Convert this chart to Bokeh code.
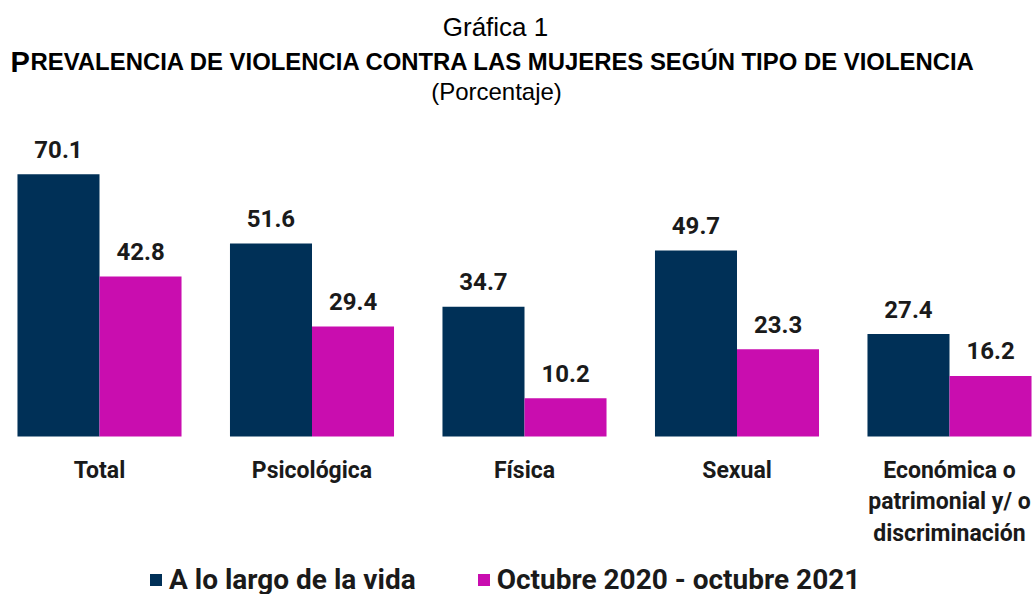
from bokeh.plotting import figure
from bokeh.models import ColumnDataSource, Range1d, Label, Legend, LegendItem
from bokeh.transform import dodge
from bokeh.core.properties import value
from bokeh.embed import file_html
from bokeh.resources import INLINE

# ---- data ----
categories = ["Total", "Psicológica", "Física", "Sexual",
              "Económica o\npatrimonial y/ o\ndiscriminación"]
vida = [70.1, 51.6, 34.7, 49.7, 27.4]
periodo = [42.8, 29.4, 10.2, 23.3, 16.2]
series_names = ["A lo largo de la vida", "Octubre 2020 - octubre 2021"]

NAVY = "#003057"
MAGENTA = "#C90DAF"

src = ColumnDataSource(dict(
    x=list(range(len(categories))),
    cat=categories,
    vida=vida,
    periodo=periodo,
    vida_lbl=[f"{v:.1f}" for v in vida],
    periodo_lbl=[f"{v:.1f}" for v in periodo],
))

W, H = 1036, 594
PX_X = 212.5
PX_Y = 3.74
x0 = -99 / PX_X
y0 = -(H - 436) / PX_Y

p = figure(width=W, height=H, output_backend="svg", toolbar_location=None,
           x_range=Range1d(x0, x0 + W / PX_X), y_range=Range1d(y0, y0 + H / PX_Y),
           min_border=0, outline_line_color=None)
p.axis.visible = False
p.grid.visible = False

bw = 0.386
r1 = p.vbar(x=dodge("x", -bw / 2, range=p.x_range), top="vida", width=bw, bottom=0,
            source=src, fill_color=NAVY, line_color=None)
r2 = p.vbar(x=dodge("x", bw / 2, range=p.x_range), top="periodo", width=bw, bottom=0,
            source=src, fill_color=MAGENTA, line_color=None)

num_kw = dict(text_align="center", text_baseline="alphabetic", y_offset=-25,
              text_font=value("Roboto"), text_font_style="bold",
              text_font_size="24px", text_color="#1a1a1a", source=src)
p.text(x=dodge("x", -bw / 2, range=p.x_range), y="vida", text="vida_lbl", **num_kw)
p.text(x=dodge("x", bw / 2, range=p.x_range), y="periodo", text="periodo_lbl", **num_kw)

# category labels
p.text(x="x", y=0, text="cat", source=src, text_align="center", text_baseline="top",
       y_offset=20, text_font=value("Roboto"), text_font_style="bold",
       text_font_size="23px", text_color="#1a1a1a", text_line_height=1.18)

# titles
p.add_layout(Label(x=495, y=568, x_units="screen", y_units="screen", text="Gráfica 1",
                   text_align="center", text_baseline="alphabetic",
                   text_font="Liberation Sans", text_font_size="26px", text_color="#000000"))
p.add_layout(Label(x=10, y=533, x_units="screen", y_units="screen", text="P",
                   text_align="left", text_baseline="alphabetic",
                   text_font="Liberation Sans", text_font_style="bold",
                   text_font_size="29px", text_color="#000000"))
p.add_layout(Label(x=30, y=533, x_units="screen", y_units="screen",
                   text="REVALENCIA DE VIOLENCIA CONTRA LAS MUJERES SEGÚN TIPO DE VIOLENCIA",
                   text_align="left", text_baseline="alphabetic",
                   text_font="Liberation Sans", text_font_style="bold",
                   text_font_size="23.9px", text_color="#000000"))
p.add_layout(Label(x=496, y=503, x_units="screen", y_units="screen", text="(Porcentaje)",
                   text_align="center", text_baseline="alphabetic",
                   text_font="Liberation Sans", text_font_size="24px", text_color="#000000"))

legend = Legend(items=[LegendItem(label=series_names[0], renderers=[r1]),
                       LegendItem(label=series_names[1], renderers=[r2])],
                location=(148, -2), orientation="horizontal",
                glyph_width=15, glyph_height=15, label_standoff=6, spacing=60,
                padding=0, margin=0, border_line_color=None, background_fill_alpha=0,
                label_text_font="Roboto", label_text_font_style="bold",
                label_text_font_size="28px", label_text_color="#1a1a1a")
p.add_layout(legend)

open("out.html", "w").write(file_html(p, INLINE))
